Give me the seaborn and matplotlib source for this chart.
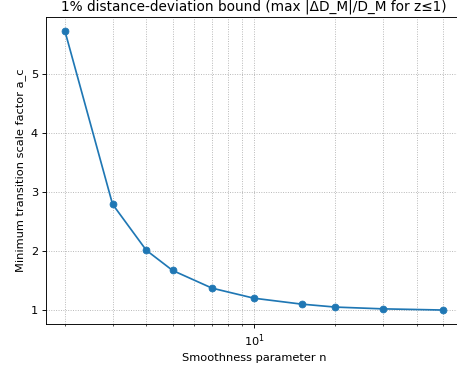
import matplotlib
matplotlib.use("Agg")
from matplotlib import pyplot as plt
import seaborn as sns
import pandas as pd

n_values = [2, 3, 4, 5, 7, 10, 15, 20, 30, 50]
a_c_values = [5.72, 2.79, 2.01, 1.67, 1.37, 1.20, 1.10, 1.05, 1.02, 1.00]

df = pd.DataFrame({"n": n_values, "a_c": a_c_values})

dpi = 82
fig = plt.figure(figsize=(457 / dpi, 367 / dpi), dpi=dpi)
ax = fig.add_axes([46 / 457, 1 - 324 / 367, 416 / 457, 307 / 367])

sns.lineplot(data=df, x="n", y="a_c", marker="o", color="#1f77b4",
             markeredgecolor="#1f77b4", markersize=6, linewidth=1.5, ax=ax)
ax.set_xscale("log")
ax.grid(True, which="both", linestyle=":", linewidth=0.8, color="#b0b0b0")
ax.set_xlabel("Smoothness parameter n")
ax.set_ylabel("Minimum transition scale factor a_c")
ax.set_title("1% distance-deviation bound (max |ΔD_M|/D_M for z≤1)")

fig.savefig("out.png", dpi=dpi)
